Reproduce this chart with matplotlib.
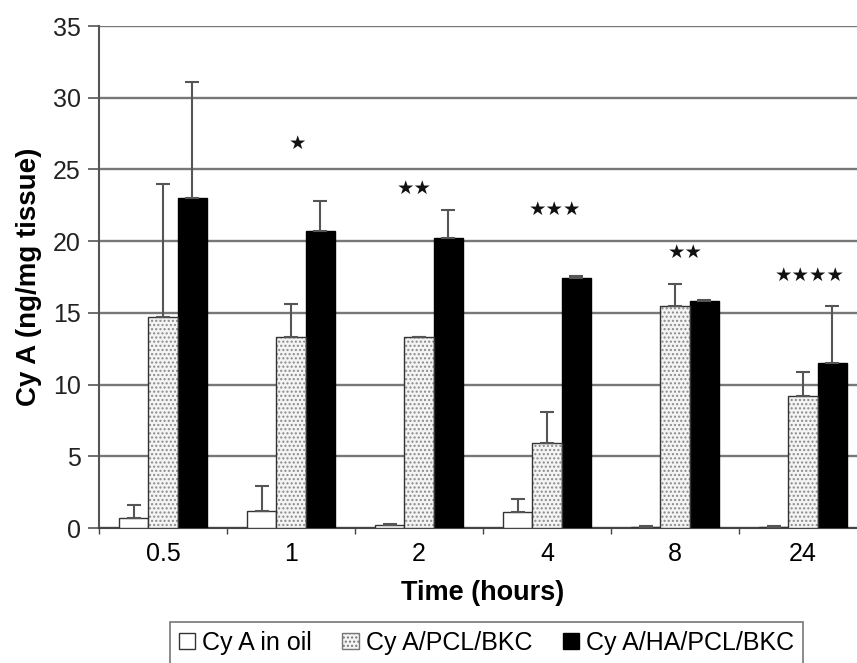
import matplotlib
matplotlib.use("Agg")
import matplotlib.pyplot as plt
from matplotlib.patches import Patch
import numpy as np

categories = ["0.5", "1", "2", "4", "8", "24"]
series_names = ["Cy A in oil", "Cy A/PCL/BKC", "Cy A/HA/PCL/BKC"]
oil_mean = [0.7, 1.2, 0.2, 1.1, 0.1, 0.1]
oil_err = [0.9, 1.7, 0.05, 0.9, 0.05, 0.05]
pcl_mean = [14.7, 13.3, 13.3, 5.9, 15.5, 9.2]
pcl_err = [9.3, 2.3, 0.05, 2.2, 1.5, 1.7]
ha_mean = [23.0, 20.7, 20.2, 17.4, 15.8, 11.5]
ha_err = [8.1, 2.1, 2.0, 0.2, 0.1, 4.0]
star_labels = ["", "★", "★★", "★★★", "★★", "★★★★"]
star_heights = [None, 26.8, 23.7, 22.2, 19.2, 17.6]

plt.rcParams['font.family'] = ['Liberation Sans', 'DejaVu Sans']
plt.rcParams['hatch.linewidth'] = 1.0

fig = plt.figure(figsize=(8.57, 6.63), dpi=100)
ax = fig.add_axes([99/857, 1-528/663, (867-99)/857, (528-26)/663])

x = np.arange(len(categories))
w = 0.228
err_kw = dict(ecolor='#555555', elinewidth=1.5, capsize=5, capthick=1.5)

def onesided(e):
    return [np.zeros(len(e)), e]

ax.bar(x - w, oil_mean, w, color='white', edgecolor='#333333', linewidth=1.0,
       yerr=onesided(oil_err), error_kw=err_kw, zorder=3)
ax.bar(x, pcl_mean, w, color='#f4f4f4', edgecolor='#8a8a8a', linewidth=0,
       hatch='....', zorder=3)
ax.bar(x, pcl_mean, w, fill=False, edgecolor='#333333', linewidth=1.0,
       yerr=onesided(pcl_err), error_kw=err_kw, zorder=4)
ax.bar(x + w, ha_mean, w, color='black', edgecolor='black', linewidth=1.0,
       yerr=onesided(ha_err), error_kw=err_kw, zorder=3)

offsets = [0, 0.05, -0.04, 0.06, 0.08, 0.05]
for i, (lab, h) in enumerate(zip(star_labels, star_heights)):
    if lab and h is not None:
        ax.text(x[i] + offsets[i], h, lab, ha='center', va='center',
                fontsize=14, family='DejaVu Sans', color='#111111', zorder=5)

ax.set_xlim(-0.5, len(categories) - 0.5)
ax.set_ylim(0, 35)
ax.set_yticks(np.arange(0, 36, 5))
ax.yaxis.grid(True, color='#777777', linewidth=1.7, zorder=0)
ax.set_axisbelow(True)
ax.set_xticks(x)
ax.set_xticklabels(categories)
ax.set_xticks(np.arange(-0.5, len(categories), 1), minor=True)
ax.tick_params(axis='x', which='major', length=0, labelsize=18, pad=10)
ax.tick_params(axis='x', which='minor', length=4, width=1, color='#444444', direction='out')
ax.tick_params(axis='y', length=8, width=1.2, color='#555555', labelsize=18, pad=5,
               labelcolor='#222222')
for s in ['top', 'right']:
    ax.spines[s].set_visible(False)
ax.spines['left'].set_color('#555555')
ax.spines['left'].set_linewidth(1.5)
ax.spines['bottom'].set_color('#444444')
ax.spines['bottom'].set_linewidth(1.5)

ax.set_ylabel("Cy A (ng/mg tissue)", fontsize=20, fontweight='bold', labelpad=8)
ax.set_xlabel("Time (hours)", fontsize=19.5, fontweight='bold', labelpad=10)

handles = [
    Patch(facecolor='white', edgecolor='#333333', linewidth=1.0),
    Patch(facecolor='#f4f4f4', edgecolor='#777777', hatch='....', linewidth=1.0),
    Patch(facecolor='black', edgecolor='black', linewidth=1.0),
]
leg = fig.legend(handles, series_names, loc='upper left',
                 bbox_to_anchor=(170/857, 1-622/663), ncol=3, fontsize=18,
                 frameon=True, fancybox=False, handlelength=0.65, handleheight=0.65,
                 handletextpad=0.3, columnspacing=1.2, borderpad=0.35,
                 borderaxespad=0)
leg.get_frame().set_edgecolor('#555555')
leg.get_frame().set_linewidth(1.2)

fig.savefig("out.png", dpi=100)
